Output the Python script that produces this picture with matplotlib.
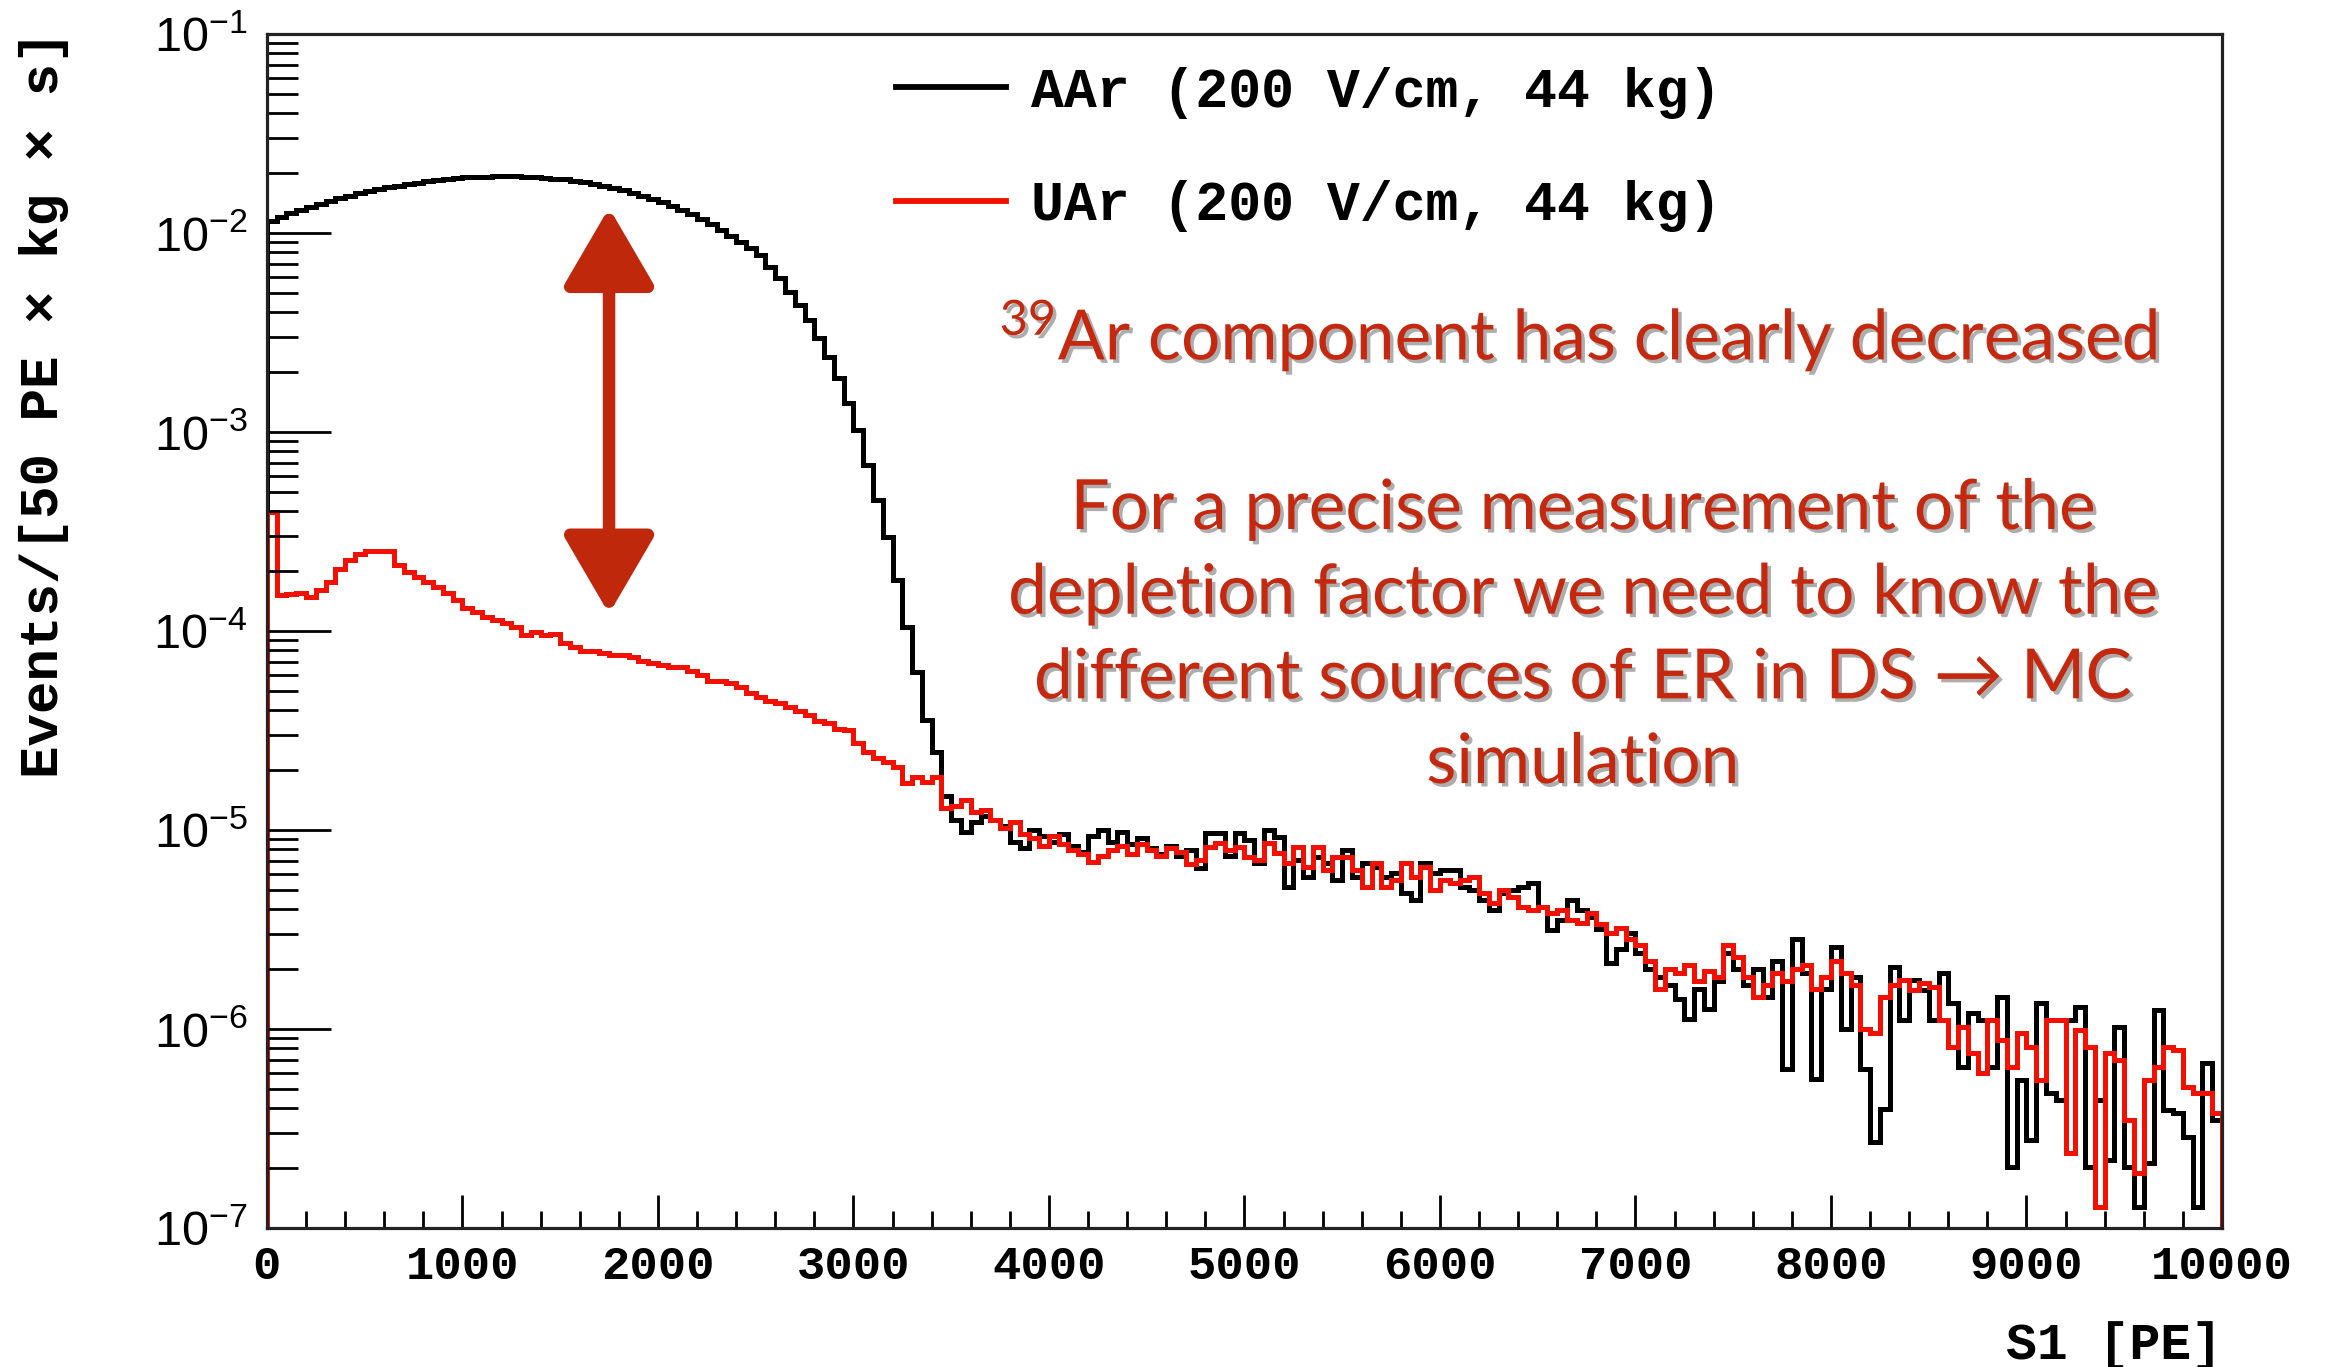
import numpy as np
import matplotlib
matplotlib.use("Agg")
import matplotlib.pyplot as plt
from matplotlib import patheffects
from matplotlib.ticker import LogLocator, MultipleLocator, NullFormatter

# S1 spectra, 50 PE bins from 0 to 10000 PE, stored as log10(rate)
BIN_WIDTH = 50
N_BINS = 200

AAR_LOG = [
    -1.94, -1.918, -1.90, -1.884, -1.868, -1.853, -1.839, -1.825, -1.812, -1.80,
    -1.789, -1.779, -1.77, -1.762, -1.754, -1.747, -1.74, -1.734, -1.729, -1.724,
    -1.72, -1.718, -1.716, -1.715, -1.714, -1.715, -1.716, -1.719, -1.722, -1.726,
    -1.731, -1.737, -1.744, -1.752, -1.762, -1.772, -1.785, -1.798, -1.812, -1.828,
    -1.845, -1.865, -1.885, -1.905, -1.93, -1.955, -1.985, -2.015, -2.045, -2.075,
    -2.111, -2.171, -2.226, -2.296, -2.362, -2.437, -2.528, -2.623, -2.729, -2.854,
    -2.99, -3.166, -3.342, -3.528, -3.744, -3.98, -4.206, -4.447, -4.608, -4.83,
    -4.95, -5.01, -4.96, -4.93, -4.95, -4.98, -5.06, -5.09, -5.00, -5.03,
    -5.06, -5.02, -5.08, -5.11, -5.03, -5.00, -5.06, -5.01, -5.07, -5.04,
    -5.09, -5.12, -5.08, -5.13, -5.10, -5.19, -5.017, -5.017, -5.13, -5.017,
    -5.05, -5.167, -5.0, -5.034, -5.285, -5.151, -5.234, -5.134, -5.167, -5.251,
    -5.10, -5.234, -5.167, -5.184, -5.234, -5.217, -5.318, -5.352, -5.167, -5.217,
    -5.201, -5.201, -5.285, -5.301, -5.352, -5.402, -5.318, -5.301, -5.285, -5.268,
    -5.385, -5.502, -5.452, -5.352, -5.402, -5.435, -5.50, -5.67, -5.60, -5.52,
    -5.62, -5.70, -5.74, -5.78, -5.85, -5.95, -5.80, -5.90, -5.76, -5.62,
    -5.70, -5.78, -5.70, -5.84, -5.66, -6.20, -5.55, -5.72, -6.25, -5.80,
    -5.59, -6.00, -5.74, -6.20, -6.57, -6.40, -5.69, -5.955, -5.754, -5.804,
    -5.955, -5.72, -5.871, -6.189, -5.921, -5.955, -6.189, -5.838, -6.692, -6.256,
    -6.558, -5.871, -6.323, -6.357, -5.955, -5.888, -6.692, -6.357, -6.658, -5.988,
    -6.692, -6.893, -6.675, -5.905, -6.407, -6.424, -6.541, -6.893, -6.172, -6.457,
]

UAR_LOG = [
    -3.40, -3.82, -3.815, -3.81, -3.83, -3.794, -3.752, -3.69, -3.643, -3.613,
    -3.597, -3.597, -3.597, -3.668, -3.702, -3.727, -3.752, -3.777, -3.81, -3.844,
    -3.886, -3.903, -3.928, -3.945, -3.961, -3.978, -4.02, -4.003, -4.02, -4.015,
    -4.06, -4.08, -4.10, -4.10, -4.11, -4.12, -4.12, -4.13, -4.15, -4.16,
    -4.17, -4.18, -4.18, -4.20, -4.22, -4.25, -4.25, -4.26, -4.28, -4.31,
    -4.33, -4.35, -4.36, -4.38, -4.40, -4.42, -4.45, -4.46, -4.49, -4.497,
    -4.565, -4.606, -4.64, -4.657, -4.682, -4.765, -4.732, -4.757, -4.732, -4.89,
    -4.88, -4.85, -4.91, -4.90, -4.95, -4.99, -4.96, -5.02, -5.04, -5.08,
    -5.03, -5.07, -5.10, -5.12, -5.16, -5.13, -5.10, -5.08, -5.12, -5.07,
    -5.10, -5.13, -5.09, -5.11, -5.17, -5.15, -5.084, -5.067, -5.10, -5.084,
    -5.134, -5.151, -5.067, -5.117, -5.167, -5.084, -5.184, -5.084, -5.201, -5.134,
    -5.134, -5.201, -5.285, -5.167, -5.285, -5.251, -5.167, -5.234, -5.184, -5.301,
    -5.251, -5.268, -5.251, -5.234, -5.318, -5.368, -5.301, -5.335, -5.385, -5.402,
    -5.385, -5.419, -5.402, -5.452, -5.469, -5.419, -5.47, -5.52, -5.49, -5.55,
    -5.58, -5.66, -5.80, -5.70, -5.72, -5.68, -5.76, -5.71, -5.74, -5.58,
    -5.64, -5.74, -5.84, -5.78, -5.72, -5.76, -5.70, -5.68, -5.80, -5.74,
    -5.66, -5.72, -5.78, -6.00, -6.02, -5.84, -5.78, -5.754, -5.804, -5.770,
    -5.787, -5.955, -6.089, -5.988, -6.122, -6.223, -5.955, -6.055, -6.189, -6.022,
    -6.089, -6.256, -5.955, -5.955, -6.625, -6.005, -6.089, -6.893, -6.122, -6.156,
    -6.457, -6.725, -6.256, -6.189, -6.089, -6.106, -6.29, -6.323, -6.323, -6.424,
]

AAR_LABEL = "AAr (200 V/cm, 44 kg)"
UAR_LABEL = "UAr (200 V/cm, 44 kg)"

X_TICKS = list(range(0, 10001, 1000))
Y_TICKS = [1e-7, 1e-6, 1e-5, 1e-4, 1e-3, 1e-2, 1e-1]

# double arrow marking the 39Ar suppression
ARROW_X = 1750
ARROW_TOP = 1.34e-2
ARROW_BOTTOM = 1.22e-4

NOTE_RED = "#c4290f"
MONO = "Liberation Mono"

plt.rcParams["mathtext.default"] = "regular"

edges = np.arange(N_BINS + 1) * BIN_WIDTH
aar = 10.0 ** np.array(AAR_LOG)
uar = 10.0 ** np.array(UAR_LOG)

fig = plt.figure(figsize=(23.25, 13.67), dpi=100)
ax = fig.add_axes([0.1148, 0.1017, 0.8409, 0.8734])

ax.stairs(aar, edges, color="black", lw=3.6, label=AAR_LABEL)
ax.stairs(uar, edges, color="#f21000", lw=3.6, label=UAR_LABEL)

ax.set_xlim(0, 10000)
ax.set_yscale("log")
ax.set_ylim(1e-7, 1e-1)

ax.set_xticks(X_TICKS, [str(t) for t in X_TICKS],
              fontfamily=MONO, fontweight="bold", fontsize=34)
ax.xaxis.set_minor_locator(MultipleLocator(200))
ax.set_yticks(Y_TICKS, [rf"$10^{{{int(round(np.log10(t)))}}}$" for t in Y_TICKS],
              fontfamily="Liberation Sans", fontsize=35)
ax.yaxis.set_minor_locator(LogLocator(base=10, subs=np.arange(2, 10), numticks=12))
ax.yaxis.set_minor_formatter(NullFormatter())

ax.tick_params(axis="x", which="major", direction="in", length=24, width=2,
               top=False, pad=12)
ax.tick_params(axis="x", which="minor", direction="in", length=12, width=2, top=False)
ax.tick_params(axis="y", which="major", direction="in", length=46, width=2,
               right=False, pad=14)
ax.tick_params(axis="y", which="minor", direction="in", length=22, width=2, right=False)
for sp in ax.spines.values():
    sp.set_linewidth(2.3)
    sp.set_color("#222222")

fig.text(0.019, 0.978, "Events/[50 PE \u00d7 kg \u00d7 s]", rotation=90,
         ha="center", va="top", fontfamily=MONO, fontweight="bold", fontsize=39)
fig.text(0.9557, 0.016, "S1 [PE]", ha="right", va="center",
         fontfamily=MONO, fontweight="bold", fontsize=37)

leg = ax.legend(loc="upper left", bbox_to_anchor=(0.322, 0.973), frameon=False,
                prop={"family": MONO, "weight": "bold", "size": 39.5},
                handlelength=2.0, handletextpad=0.45, labelspacing=1.12,
                borderpad=0, borderaxespad=0)
for h in leg.get_lines():
    h.set_linewidth(4.2)

shadow = [patheffects.withSimplePatchShadow(offset=(2.5, -2.5),
                                            shadow_rgbFace="#777777", alpha=0.6)]
note_kw = dict(transform=ax.transAxes, ha="center", va="baseline",
               color=NOTE_RED, fontsize=50, family=["Lato", "DejaVu Sans"],
               path_effects=shadow)
ax.text(0.671, 0.727, r"$^{39}$Ar component has clearly decreased", **note_kw)
note_lines = [
    "For a precise measurement of the",
    "depletion factor we need to know the",
    "different sources of ER in DS \u2192 MC",
    "simulation",
]
for i, line in enumerate(note_lines):
    ax.text(0.673, 0.5854 - i * 0.0709, line, **note_kw)

ax.annotate("", xy=(ARROW_X, ARROW_BOTTOM), xytext=(ARROW_X, ARROW_TOP),
            arrowprops=dict(arrowstyle="<|-|>,head_length=4.8,head_width=2.8",
                            lw=9, color="#c0280c", shrinkA=0, shrinkB=0))

fig.savefig("out.png", dpi=100)
